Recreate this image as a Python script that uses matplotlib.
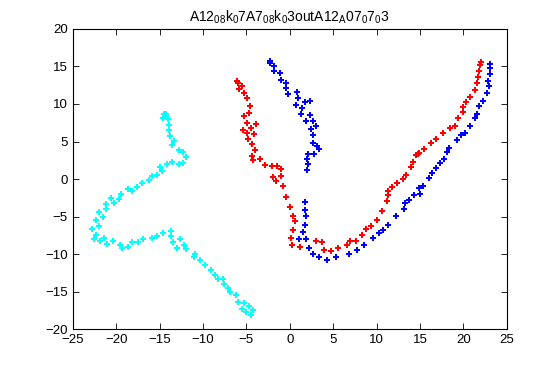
import matplotlib
matplotlib.use("Agg")
import matplotlib.pyplot as plt

plt.rcParams['font.family'] = ['Liberation Sans', 'DejaVu Sans']
plt.rcParams['mathtext.fontset'] = 'custom'
plt.rcParams['mathtext.rm'] = 'Liberation Sans'
plt.rcParams['mathtext.it'] = 'Liberation Sans'

# red trajectory
red_x = [-6.07, -5.95, -5.49, -5.84, -5.26, -4.92, -4.57, -4.69, -5.26, -4.92,
         -3.88, -4.46, -5.38, -4.92, -4.11, -4.80, -4.34, -3.99, -4.34, -4.23,
         -3.42, -2.84, -2.04, -1.46, -1.92, -1.57,
         -0.96, -1.04, -0.84, -0.42, 0.04, 0.38, 0.61, 0.38, 0.15, 0.27,
         1.19, 3.03, 3.72, 3.95, 4.76, 5.57, 6.61, 6.95, 7.64, 8.33,
         8.79, 9.37, 10.06, 10.64, 11.21, 11.33, 11.33, 11.79, 12.37, 13.06,
         13.40, 13.98, 14.21, 14.55, 14.78, 14.90, 15.48, 16.28, 16.86, 17.66,
         18.47, 19.05, 19.39, 19.97, 19.97, 20.31, 20.78, 21.35, 21.58, 21.70,
         21.81, 21.93, 22.04]
red_y = [13.07, 12.76, 12.40, 11.96, 11.42, 10.76, 9.69, 8.80, 8.36, 7.42,
         7.29, 6.76, 6.49, 6.09, 5.96, 5.29, 4.62, 3.87, 3.02, 2.49,
         2.62, 1.82, 1.69, 1.69, 0.22, -0.31,
         1.33, 0.36, -0.98, -2.44, -3.78, -4.98, -5.64, -6.84, -7.78, -8.71,
         -8.98, -8.31, -8.44, -9.38, -9.51, -9.24, -8.84, -8.18, -8.31, -7.51,
         -6.71, -6.31, -5.51, -4.31, -2.98, -2.18, -1.64, -1.11, -0.58, -0.04,
         0.49, 1.56, 2.22, 3.16, 3.29, 3.42, 3.96, 4.76, 5.29, 6.09,
         6.76, 7.02, 8.09, 8.89, 9.56, 10.22, 10.89, 11.82, 12.76, 13.56,
         14.36, 15.16, 15.56]

# blue trajectory
blue_x = [-2.27, -2.27, -1.81, -1.81, -1.15, -0.96, -0.42, -0.42, -0.19, 0.85,
          0.96, 0.73, 1.42, 1.77, 2.34, 1.31, 2.34, 1.88, 2.69, 3.03,
          2.46, 2.69, 2.69, 3.15, 3.38, 2.11, 2.80, 2.00, 2.11, 2.00,
          1.77, 1.77, 1.88, 1.77, 1.54, 1.08, 1.88, 2.23, 2.69, 3.38,
          4.30, 5.34, 6.84, 7.76, 8.56, 9.60, 10.29, 10.75, 11.33, 12.25,
          13.17, 13.29, 13.75, 14.32, 15.02, 14.90, 15.36, 16.05, 16.40, 16.86,
          17.32, 17.78, 18.13, 18.36, 19.28, 19.74, 20.20, 20.78, 21.35, 21.58,
          21.81, 22.27, 22.73, 22.96, 22.85, 23.08, 23.08, 23.08]
blue_y = [15.73, 15.42, 15.07, 14.36, 14.09, 13.16, 12.80, 12.09, 11.29, 11.56,
          10.76, 9.82, 9.42, 10.22, 10.36, 8.62, 8.49, 7.69, 7.69, 7.02,
          6.62, 5.82, 4.76, 4.36, 3.96, 3.29, 3.29, 2.62, 1.96, 1.16,
          -3.11, -4.18, -4.98, -6.18, -7.11, -8.04, -8.04, -9.11, -9.91, -10.31,
          -10.71, -10.44, -10.04, -9.38, -8.84, -7.78, -7.24, -6.84, -6.18, -4.98,
          -4.04, -3.24, -2.84, -2.18, -2.04, -1.24, -0.98, 0.09, 0.76, 1.42,
          2.09, 2.62, 3.56, 4.09, 5.16, 5.82, 6.09, 7.02, 8.09, 8.62,
          9.69, 10.36, 11.42, 12.36, 13.02, 13.96, 14.76, 15.29]

# cyan trajectory
cyan_x = [-14.52, -14.29, -14.59, -14.02, -13.90, -13.90, -13.82, -13.33, -13.56, -12.75,
          -12.29, -11.98, -12.36, -12.75, -13.59, -14.13, -14.71, -14.98, -15.28, -15.82,
          -16.21, -17.01, -17.59, -18.17, -18.63, -19.43, -19.66, -20.24, -20.62, -21.16,
          -21.16, -21.51, -21.97, -21.97, -22.35, -22.78, -22.35, -22.58, -21.85, -21.39,
          -21.05, -20.35, -19.55, -19.32, -18.63, -18.17, -17.47, -16.90,
          -15.93, -15.29, -14.60, -13.63, -13.68, -13.45, -12.98, -12.64, -12.18, -11.95,
          -10.91, -11.03, -10.33, -9.76, -9.07, -8.56, -8.26, -7.68, -7.57, -7.11,
          -6.91, -6.22, -5.95, -5.30, -4.69, -5.53, -5.07, -4.23, -4.46]
cyan_y = [8.67, 8.67, 8.09, 7.96, 7.20, 6.53, 5.73, 5.11, 4.49, 3.87,
          3.56, 2.98, 2.18, 2.00, 2.22, 2.00, 1.07, 1.64, 0.49, 0.36,
          -0.18, -0.58, -1.11, -1.64, -1.38, -1.96, -2.62, -3.24, -2.53, -3.96,
          -3.29, -5.11, -4.44, -6.27, -5.47, -6.67, -7.38, -8.04, -8.31, -7.78,
          -8.58, -8.18, -8.71, -9.24, -9.07, -8.44, -8.44, -8.04,
          -7.91, -7.60, -7.16, -6.93, -7.60, -8.44, -9.11, -8.04, -8.71, -9.37,
          -9.91, -10.44, -10.84, -11.47, -12.17, -12.71, -13.24, -13.24, -13.91, -14.44,
          -15.03, -15.47, -16.31, -16.44, -16.93, -17.24, -17.73, -17.47, -18.04]

title = r"A12$_{08}$k$_{0}$7A7$_{08}$k$_{0}$3outA12$_{A}$07$_{0}$7$_{0}$3"

fig = plt.figure(figsize=(5.6, 3.7), dpi=100)
ax = fig.add_axes([0.13, 0.11, 0.775, 0.812])

for xs, ys, c in [(red_x, red_y, (1, 0, 0)),
                  (blue_x, blue_y, (0, 0, 1)),
                  (cyan_x, cyan_y, (0, 1, 1))]:
    ax.plot(xs, ys, linestyle='none', marker='P', markersize=5,
            color=c, markeredgewidth=0)

ax.set_xlim(-25, 25)
ax.set_ylim(-20, 20)
ax.set_xticks(range(-25, 26, 5))
ax.set_yticks(range(-20, 21, 5))
ax.tick_params(direction='in', length=4, labelsize=9.5, top=True, right=True,
               labeltop=False, labelright=False, width=0.6)
for s in ax.spines.values():
    s.set_linewidth(0.8)
ax.set_title(title, fontsize=10, pad=5)

fig.savefig("out.png", dpi=100)
